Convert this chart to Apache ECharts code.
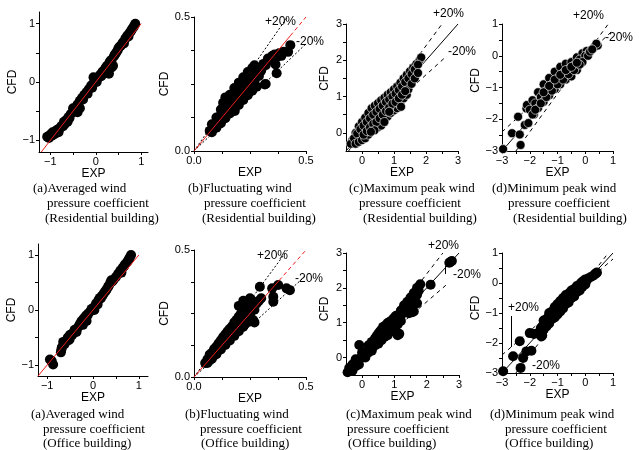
<!DOCTYPE html>
<html>
<head>
<meta charset="utf-8">
<script src="https://cdn.jsdelivr.net/npm/echarts@6/dist/echarts.min.js"></script>
<style>
  html, body { margin: 0; padding: 0; background: #fff; }
  #chart { width: 639px; height: 450px; }
</style>
</head>
<body>
<div id="chart"></div>
<script>
// 数据: [EXP, CFD]
// 上排 住宅
const avgRes = [[-1.07,-0.94],[-1.03,-0.96],[-1.0,-0.9],[-0.97,-0.92],[-0.95,-0.86],[-0.9,-0.85],[-0.88,-0.88],[-0.85,-0.82],[-0.8,-0.8],[-0.78,-0.78],[-0.75,-0.75],[-0.92,-0.9],[-0.82,-0.86],[-0.72,-0.76],[-0.7,-0.68],[-0.68,-0.72],[-0.65,-0.65],[-0.6,-0.6],[-0.58,-0.62],[-0.55,-0.55],[-0.5,-0.52],[-0.62,-0.68],[-0.48,-0.5],[-0.5,-0.45],[-0.45,-0.44],[-0.4,-0.52],[-0.35,-0.45],[-0.38,-0.42],[-0.4,-0.38],[-0.35,-0.32],[-0.3,-0.27],[-0.28,-0.3],[-0.25,-0.22],[-0.2,-0.17],[-0.18,-0.2],[-0.15,-0.12],[-0.1,-0.06],[-0.08,-0.1],[-0.05,-0.02],[-0.05,0.08],[0,0.03],[0.02,0.0],[0.05,0.07],[0.1,0.13],[0.12,0.1],[0.15,0.18],[0.2,0.22],[0.22,0.25],[0.25,0.28],[0.3,0.33],[0.32,0.36],[0.35,0.38],[0.4,0.44],[0.42,0.47],[0.45,0.5],[0.48,0.54],[0.29,0.14],[0.38,0.28],[0.35,0.25],[0.5,0.58],[0.52,0.6],[0.55,0.62],[0.58,0.65],[0.6,0.68],[0.65,0.74],[0.68,0.77],[0.7,0.8],[0.75,0.85],[0.78,0.88],[0.8,0.91],[0.83,0.94],[0.85,0.97],[0.87,1.0],[0.72,0.78],[0.62,0.66]];
const fluRes = [[0.08,0.07],[0.1,0.087],[0.12,0.104],[0.14,0.122],[0.16,0.14],[0.18,0.155],[0.2,0.172],[0.22,0.19],[0.24,0.208],[0.26,0.225],[0.28,0.24],
  [0.07,0.075],[0.09,0.095],[0.11,0.115],[0.13,0.137],[0.15,0.158],[0.17,0.18],[0.19,0.2],[0.21,0.222],[0.23,0.243],[0.25,0.265],[0.27,0.285],[0.29,0.305],[0.31,0.325],[0.33,0.345],
  [0.08,0.1],[0.1,0.125],[0.12,0.155],[0.13,0.18],[0.14,0.2],[0.16,0.21],[0.18,0.235],[0.2,0.255],[0.22,0.275],[0.24,0.295],[0.26,0.31],[0.27,0.32],
  [0.12,0.135],[0.14,0.165],[0.16,0.185],[0.18,0.205],[0.2,0.225],[0.22,0.245],[0.24,0.265],[0.26,0.285],[0.28,0.3],
  [0.11,0.1],[0.15,0.14],[0.17,0.16],[0.19,0.18],[0.21,0.2],[0.23,0.22],[0.25,0.24],[0.27,0.26],[0.29,0.28],
  [0.3,0.3],[0.32,0.32],[0.34,0.34],[0.35,0.355],[0.36,0.36],[0.38,0.365],[0.4,0.37],[0.42,0.37],[0.43,0.395],[0.37,0.35],[0.39,0.355],
  [0.316,0.248],[0.369,0.29],[0.364,0.323],[0.182,0.149],[0.32,0.25]];
const maxRes = [[-0.3,-0.2],[-0.2,0.0],[-0.1,0.18],[0,0.3],[0.1,0.42],[0.2,0.55],[0.3,0.68],[0.4,0.75],[0.5,0.82],[0.6,0.9],[0.7,0.97],[0.8,1.05],[0.9,1.12],[1.0,1.2],[1.1,1.28],[1.2,1.38],[1.3,1.5],[1.4,1.6],[1.5,1.7],[1.6,1.8],[1.7,1.9],[1.8,2.0],[1.85,2.08],
  [-0.35,-0.3],[-0.25,-0.15],[-0.15,-0.02],[-0.05,0.1],[0.05,0.2],[0.15,0.3],[0.25,0.4],[0.35,0.5],[0.45,0.58],[0.55,0.66],[0.65,0.75],[0.75,0.85],[0.85,0.92],[0.95,1.0],[1.05,1.08],[1.15,1.18],[1.25,1.28],[1.35,1.4],[1.45,1.5],[1.55,1.62],[1.65,1.75],[1.75,1.88],
  [-0.2,-0.3],[-0.1,-0.25],[0,-0.2],[0.1,-0.15],[0.2,-0.05],[0.3,0.05],[0.4,0.1],[0.5,0.15],[0.6,0.2],[0.7,0.35],[0.8,0.45],[0.9,0.55],[1.0,0.62],[1.1,0.68],[1.2,0.76],[1.3,0.95],[1.4,1.05],[1.45,1.2],[1.55,1.35],[1.65,1.5],[1.75,1.65],
  [0.05,-0.05],[0.15,0.05],[0.25,0.15],[0.35,0.25],[0.45,0.3],[0.55,0.4],[0.65,0.5],[0.75,0.6],[0.85,0.7],[0.95,0.8],[1.05,0.85],[1.15,0.95],[1.25,1.05],[1.35,1.15],
  [0.85,0.58],[0.7,0.3],[0.39,0.07],[0.28,0.03],[1.22,0.72]];
const minRes = [[-2.96,-2.94],[-2.64,-2.44],[-2.42,-1.92],[-2.36,-2.48],[-2.33,-2.81],[-2.18,-2.18],[-2.05,-2.12],[-2.12,-1.66],[-1.85,-1.85],
  [-2.1,-1.55],[-1.9,-1.4],[-1.7,-1.15],[-1.5,-0.9],[-1.3,-0.7],[-1.1,-0.5],[-0.9,-0.35],[-0.7,-0.25],[-0.5,-0.2],[-0.3,-0.05],[-0.1,0.08],[0.05,0.15],
  [-2.0,-1.7],[-1.8,-1.5],[-1.6,-1.3],[-1.4,-1.1],[-1.2,-0.9],[-1.0,-0.72],[-0.8,-0.55],[-0.6,-0.42],[-0.4,-0.3],[-0.2,-0.12],[0,0.0],[0.15,0.1],
  [-1.9,-1.85],[-1.7,-1.65],[-1.5,-1.45],[-1.3,-1.25],[-1.1,-1.05],[-0.9,-0.9],[-0.7,-0.75],[-0.5,-0.65],[-0.3,-0.45],[-0.1,-0.2],[0.1,0.0],
  [-1.8,-1.7],[-1.6,-1.5],[-1.4,-1.3],[-1.2,-1.1],[-1.0,-0.9],[-0.8,-0.75],[-0.6,-0.58],[-0.4,-0.45],[-0.2,-0.28],
  [-1.5,-1.15],[-1.3,-0.95],[-1.1,-0.75],[-0.9,-0.6],[-0.7,-0.45],[-0.5,-0.35],[-0.3,-0.22],
  [0.17,0.13],[0.3,0.25],[0.35,0.29],[0.45,0.32],[0.4,0.38],[0.25,0.2]];
// 下排 办公
const avgOff = [[-0.94,-0.9],[-0.87,-0.99],[-0.9,-0.93],[-0.7,-0.77],[-0.68,-0.68],[-0.69,-0.72],[-0.65,-0.58],[-0.62,-0.62],[-0.6,-0.58],[-0.58,-0.55],[-0.55,-0.5],[-0.53,-0.55],[-0.5,-0.45],[-0.51,-0.53],[-0.47,-0.46],[-0.45,-0.45],[-0.42,-0.4],[-0.4,-0.36],[-0.36,-0.4],[-0.33,-0.32],[-0.3,-0.28],[-0.28,-0.25],[-0.25,-0.2],[-0.22,-0.27],[-0.2,-0.15],[-0.18,-0.18],[-0.15,-0.1],[-0.14,-0.2],[-0.12,-0.1],[-0.1,-0.06],[-0.05,-0.02],[-0.03,0.02],[0,0.03],[0.03,0.0],[0.05,0.08],[0.07,0.12],[0.1,0.1],[0.12,0.18],[0.15,0.22],[0.17,0.21],[0.2,0.26],[0.22,0.28],[0.25,0.32],[0.28,0.35],[0.3,0.38],[0.33,0.42],[0.35,0.45],[0.38,0.5],[0.4,0.54],[0.42,0.52],[0.45,0.55],[0.5,0.6],[0.55,0.66],[0.58,0.68],[0.6,0.72],[0.65,0.77],[0.68,0.8],[0.7,0.83],[0.75,0.88],[0.78,0.92],[0.8,0.95],[0.83,1.0],[0.62,0.68]];
const fluOff = [[0.06,0.055],[0.08,0.072],[0.1,0.09],[0.12,0.108],[0.14,0.126],[0.16,0.144],[0.18,0.162],[0.2,0.18],[0.22,0.198],[0.24,0.216],
  [0.05,0.055],[0.07,0.075],[0.09,0.095],[0.11,0.116],[0.13,0.137],[0.15,0.158],[0.17,0.18],[0.19,0.2],[0.21,0.22],[0.23,0.24],[0.25,0.26],[0.27,0.28],[0.29,0.3],
  [0.06,0.07],[0.08,0.095],[0.1,0.12],[0.12,0.145],[0.14,0.168],[0.16,0.19],[0.18,0.215],[0.2,0.238],[0.22,0.26],[0.24,0.28],[0.26,0.3],
  [0.07,0.065],[0.09,0.085],[0.11,0.105],[0.13,0.125],[0.15,0.145],[0.17,0.165],[0.19,0.19],[0.21,0.205],[0.23,0.23],[0.25,0.245],[0.27,0.265],
  [0.07,0.088],[0.09,0.11],[0.11,0.133],[0.13,0.157],[0.15,0.18],[0.17,0.2],[0.19,0.225],[0.21,0.25],[0.23,0.27],[0.25,0.29],[0.2,0.28],[0.22,0.3],[0.25,0.31],
  [0.294,0.355],[0.227,0.276],[0.264,0.224],[0.27,0.215],[0.354,0.316],[0.354,0.296],[0.376,0.362],[0.349,0.349],[0.413,0.349],[0.428,0.342],[0.3,0.31],[0.28,0.29]];
const maxOff = [[-0.45,-0.42],[-0.35,-0.33],[-0.25,-0.22],[-0.15,-0.12],[-0.05,-0.02],[0.05,0.08],[0.15,0.18],[0.25,0.3],[0.35,0.4],[0.45,0.5],[0.55,0.6],[0.65,0.72],[0.75,0.82],[0.85,0.92],[0.95,1.0],[1.05,1.08],[1.15,1.18],[1.25,1.3],[1.35,1.42],[1.45,1.52],[1.55,1.65],[1.65,1.78],[1.75,1.92],
  [-0.2,-0.05],[0,0.15],[0.2,0.35],[0.3,0.45],[0.4,0.55],[0.5,0.68],[0.6,0.8],[0.7,0.9],[0.8,1.0],[0.9,1.05],[1.0,1.15],[1.2,1.35],[1.3,1.5],[1.4,1.6],[1.5,1.72],[1.6,1.85],[1.7,2.0],[1.8,2.1],
  [-0.3,-0.38],[-0.1,-0.2],[0.1,0.0],[0.3,0.2],[0.5,0.4],[0.6,0.5],[0.7,0.6],[0.9,0.75],[1.0,0.85],[1.1,0.95],[1.2,1.05],
  [-0.4,-0.3],[-0.3,-0.2],[-0.2,-0.25],[0,0.05],[0.1,0.15],[0.2,0.15],[0.3,0.3],[0.4,0.35],[0.5,0.5],[0.6,0.65],[0.7,0.75],[0.8,0.85],[0.9,0.9],[1.0,1.0],[1.1,1.15],[1.2,1.2],[1.3,1.35],[1.4,1.45],[1.5,1.55],[1.6,1.65],[1.7,1.8],
  [0.45,0.62],[0.55,0.75],[0.65,0.88],[0.75,0.95],[0.85,1.02],[0.95,1.1],[1.05,1.2],
  [-0.09,0.36],[0.79,0.64],[1.1,0.64],[1.15,0.68],[1.45,1.27],[1.55,1.3],[1.6,1.32],[1.7,1.56],[2.12,2.09],[2.7,2.72],[2.78,2.77],[2.74,2.75]];
const minOff = [[-2.96,-2.94],[-2.6,-2.44],[-2.36,-1.94],[-2.33,-2.83],[-2.24,-2.5],[-2.12,-2.28],[-1.94,-2.26],[-2.0,-1.67],[-1.85,-1.7],[-1.7,-1.67],[-1.58,-1.78],
  [-1.6,-1.5],[-1.4,-1.2],[-1.2,-0.95],[-1.0,-0.7],[-0.8,-0.5],[-0.6,-0.35],[-0.4,-0.2],[-0.2,-0.05],[0,0.12],[0.1,0.15],
  [-1.7,-1.68],[-1.5,-1.4],[-1.3,-1.15],[-1.1,-0.95],[-0.9,-0.75],[-0.7,-0.55],[-0.5,-0.38],[-0.3,-0.2],[-0.1,-0.05],[0.05,0.08],
  [-1.55,-1.75],[-1.4,-1.45],[-1.2,-1.2],[-1.0,-1.05],[-0.8,-0.85],[-0.6,-0.65],[-0.4,-0.45],[-0.2,-0.25],[0,-0.05],
  [-1.6,-1.6],[-1.4,-1.3],[-1.2,-1.08],[-1.0,-0.88],[-0.8,-0.68],[-0.6,-0.5],[-0.4,-0.32],[-0.2,-0.15],
  [-0.9,-0.6],[-0.7,-0.4],[-0.5,-0.25],[-1.1,-0.8],[-1.3,-1.0],
  [-1.5,-1.55],[-1.3,-1.35],[-1.1,-1.15],[-0.9,-0.95],[-0.7,-0.7],[-0.5,-0.5],[-0.3,-0.3],[-0.1,-0.12],[-1.5,-1.25],[-1.3,-1.08],[-1.1,-0.88],[-0.9,-0.68],[-0.7,-0.5],[-0.5,-0.32],[-0.3,-0.1],[-0.1,0.05],[-0.15,0.0],
  [0.2,0.2],[0.3,0.25],[0.35,0.3],[0.42,0.35],[0.4,0.33]];

// 参考线 (y=x, ±20%)
const diagA = [[-1.2,-1.2],[1,1]];
const diagB1 = [[0,0],[0.43,0.43]], diagB1Tail = [[0.43,0.43],[0.5,0.5]];
const diagB2 = [[0,0],[0.38,0.38]], diagB2Tail = [[0.38,0.38],[0.5,0.5]];
const plusB = [[0,0],[0.417,0.5]], minusB = [[0,0],[0.5,0.4]];
const diagC = [[-0.5,-0.5],[3,3]];
const plusC = [[-0.42,-0.5],[2.5,3]], minusC = [[-0.5,-0.4],[2.65,2.12]];
const diagD1 = [[-3,-3],[0.5,0.5]], diagD2 = [[-3,-3],[1,1]];
const upD = [[-3,-2.4],[1,0.8]], lowD = [[-2.5,-3],[0.83,1]];

// 刻度
const ticksA = [-1,-0.5,0,0.5,1], labelsA = [-1,0,1];
const ticksB = [0,0.125,0.25,0.375,0.5], labelsB = [0,0.5];
const ticksC = [0,0.5,1,1.5,2,2.5,3], labelsC = [0,1,2,3];
const ticksD = [-3,-2.5,-2,-1.5,-1,-0.5,0,0.5,1], labelsD = [-3,-2,-1,0,1];

// 图注
const captionsRes = [['(a)Averaged wind','pressure coefficient','(Residential building)'],
  ['(b)Fluctuating wind','pressure coefficient','(Residential building)'],
  ['(c)Maximum peak wind','pressure coefficient','(Residential building)'],
  ['(d)Minimum peak wind','pressure coefficient','(Residential building)']];
const captionsOff = [['(a)Averaged wind','pressure coefficient','(Office building)'],
  ['(b)Fluctuating wind','pressure coefficient','(Office building)'],
  ['(c)Maximum peak wind','pressure coefficient','(Office building)'],
  ['(d)Minimum peak wind','pressure coefficient','(Office building)']];

const SANS = '"Liberation Sans", Arial, sans-serif';
const SERIF = '"Liberation Serif", "Times New Roman", serif';
const RED = '#ee1c1c';

let myChart = echarts.init(document.getElementById('chart'), null, {renderer: 'canvas'});

const grids = [
  {left: 39, top: 12, width: 109, height: 140},
  {left: 194, top: 17, width: 112, height: 134},
  {left: 346, top: 24, width: 112, height: 127},
  {left: 502, top: 24, width: 111, height: 127},
  {left: 38, top: 244, width: 110, height: 132},
  {left: 194, top: 250, width: 112, height: 127},
  {left: 346, top: 253, width: 113, height: 122},
  {left: 502, top: 253, width: 111, height: 120}
];
// CFD 标题上移量 (c)(d)
const nameShift = [0, 0, 18, 14, 0, 0, 10, 10];

function fmtNum(v) {
  return String(v).replace('-', '\u2212');
}
function fmtB(v) {
  return Number(v).toFixed(1);
}

function makeAxis(gi, min, max, ticks, labels, name, isY, fmt, shift) {
  return {
    type: 'value', gridIndex: gi, min: min, max: max,
    name: name, nameLocation: 'middle', nameGap: isY ? 15 : 13, nameRotate: isY ? 90 : 0,
    nameTextStyle: {fontFamily: SANS, fontSize: 12, color: '#000', padding: [0, 0, 0, shift || 0]},
    axisLine: {show: true, onZero: false, lineStyle: {color: '#000', width: 1}},
    axisTick: {show: true, length: 3, customValues: ticks, lineStyle: {color: '#000', width: 1}},
    axisLabel: {customValues: labels, formatter: fmt, fontSize: 11, fontFamily: SANS, color: '#000', margin: 4},
    splitLine: {show: false}
  };
}

// 每个子图的坐标范围
const panels = [
  {x: [-1.25, 1.15], y: [-1.2, 1.2], ticks: ticksA, labels: labelsA, fmt: fmtNum},
  {x: [0, 0.5], y: [0, 0.5], ticks: ticksB, labels: labelsB, fmt: fmtB},
  {x: [-0.5, 3], y: [-0.5, 3], ticks: ticksC, labels: labelsC, fmt: fmtNum},
  {x: [-3, 1], y: [-3, 1], ticks: ticksD, labels: labelsD, fmt: fmtNum}
];

let xAxes = [], yAxes = [];
for (let i = 0; i < 8; i++) {
  let p = panels[i % 4];
  let xr = p.x;
  if (i === 4) xr = [-1.2, 1.2];
  xAxes.push(makeAxis(i, xr[0], xr[1], p.ticks, p.labels, 'EXP', false, p.fmt, 0));
  yAxes.push(makeAxis(i, p.y[0], p.y[1], p.ticks, p.labels, 'CFD', true, p.fmt, nameShift[i]));
}

function scatter(gi, data, size, border) {
  return {
    type: 'scatter', xAxisIndex: gi, yAxisIndex: gi, data: data, symbolSize: size, z: 2,
    itemStyle: {color: '#000', borderColor: '#fff', borderWidth: border, opacity: 1},
    emphasis: {disabled: true}, silent: true
  };
}
function refLine(gi, data, color, type, z) {
  return {
    type: 'line', xAxisIndex: gi, yAxisIndex: gi, data: data, symbol: 'none', z: z, silent: true,
    lineStyle: {color: color, width: 1, type: type}
  };
}

let series = [
  scatter(0, avgRes, 10, 0),
  refLine(0, diagA, RED, 'solid', 3),
  scatter(1, fluRes, 10, 0),
  refLine(1, diagB1, RED, 'solid', 3),
  refLine(1, diagB1Tail, RED, [4, 3], 3),
  refLine(1, plusB, '#000', [2, 2], 1),
  refLine(1, minusB, '#000', [2, 2], 1),
  scatter(2, maxRes, 9, 0.6),
  refLine(2, diagC, '#000', 'solid', 1),
  refLine(2, plusC, '#000', [4, 4], 1),
  refLine(2, minusC, '#000', [4, 4], 1),
  scatter(3, minRes, 9, 0.6),
  refLine(3, diagD1, '#000', 'solid', 1),
  refLine(3, upD, '#000', [4, 4], 1),
  refLine(3, lowD, '#000', [4, 4], 1),
  scatter(4, avgOff, 10, 0),
  refLine(4, diagA, RED, 'solid', 3),
  scatter(5, fluOff, 10, 0),
  refLine(5, diagB2, RED, 'solid', 3),
  refLine(5, diagB2Tail, RED, [4, 3], 3),
  refLine(5, plusB, '#000', [2, 2], 1),
  refLine(5, minusB, '#000', [2, 2], 1),
  scatter(6, maxOff, 10, 0),
  refLine(6, diagC, '#000', 'solid', 1),
  refLine(6, plusC, '#000', [4, 4], 1),
  refLine(6, minusC, '#000', [4, 4], 1),
  scatter(7, minOff, 10, 0),
  refLine(7, diagD2, '#000', 'solid', 1),
  refLine(7, upD, '#000', [4, 4], 1),
  refLine(7, lowD, '#000', [4, 4], 1)
];

// 文字: 图注 与 ±20% 标注
let graphic = [];
const capLeftRes = [[33, 47, 45], [188, 204, 202], [349, 359, 363], [492, 508, 513]];
const capLeftOff = [[31, 43, 43], [185, 200, 201], [346, 347, 348], [490, 505, 505]];
function addCaption(lines, lefts, tops) {
  for (let k = 0; k < 3; k++) {
    graphic.push({type: 'text', left: lefts[k], top: tops[k], z: 10,
      style: {text: lines[k], font: '13px ' + SERIF, fill: '#000'}});
  }
}
for (let j = 0; j < 4; j++) {
  addCaption(captionsRes[j], capLeftRes[j], [182, 197, 212]);
  addCaption(captionsOff[j], capLeftOff[j], [408, 423, 437]);
}
const pctLabels = [
  ['+20%', 265, 16], ['-20%', 296, 36],
  ['+20%', 433, 8], ['-20%', 448, 46],
  ['+20%', 573, 10], ['-20%', 605, 32],
  ['+20%', 257, 250], ['-20%', 295, 273],
  ['+20%', 428, 240], ['-20%', 453, 269],
  ['+20%', 508, 302], ['-20%', 532, 360]
];
pctLabels.forEach(function (t) {
  graphic.push({type: 'text', left: t[1], top: t[2], z: 10,
    style: {text: t[0], font: '12px ' + SANS, fill: '#000'}});
});
graphic.push({type: 'line', shape: {x1: 511.5, y1: 316, x2: 511.5, y2: 347},
  style: {stroke: '#000', lineWidth: 1}});
graphic.push({type: 'line', shape: {x1: 445.5, y1: 266, x2: 445.5, y2: 274},
  style: {stroke: '#000', lineWidth: 1}});

let option = {
  backgroundColor: '#fff',
  animation: false,
  grid: grids,
  xAxis: xAxes,
  yAxis: yAxes,
  series: series,
  graphic: graphic
};
myChart.setOption(option);
</script>
</body>
</html>
